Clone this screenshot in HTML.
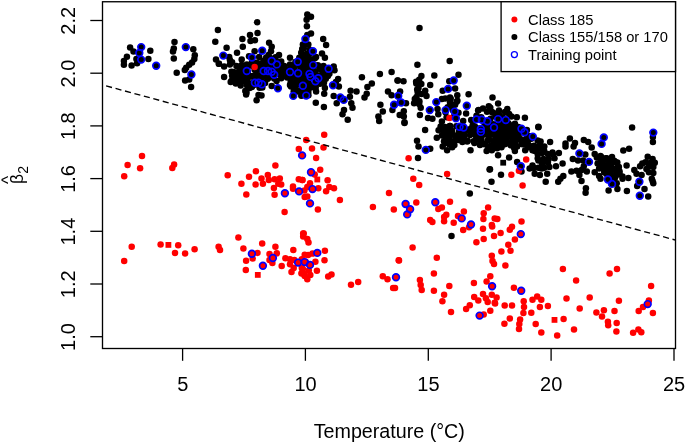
<!DOCTYPE html>
<html><head><meta charset="utf-8"><title>plot</title>
<style>
html,body{margin:0;padding:0;background:#fff;}
svg{display:block;}
text{font-family:"Liberation Sans",sans-serif;fill:#000;}
</style></head><body>
<svg width="685" height="443" viewBox="0 0 685 443">
<rect width="685" height="443" fill="#fff"/>
<g fill="#000"><circle cx="130.1" cy="47.4" r="3.25"/><circle cx="133.5" cy="51.5" r="3.25"/><circle cx="126.9" cy="56.7" r="3.25"/><circle cx="123.9" cy="61.1" r="3.25"/><circle cx="123.9" cy="64.7" r="3.25"/><circle cx="131.6" cy="65.5" r="3.25"/><circle cx="137.1" cy="63.3" r="3.25"/><circle cx="136.4" cy="58.9" r="3.25"/><circle cx="139.3" cy="53.0" r="3.25"/><circle cx="141.2" cy="47.1" r="3.25"/><circle cx="141.2" cy="59.6" r="3.25"/><circle cx="148.4" cy="58.9" r="3.25"/><circle cx="150.3" cy="50.8" r="3.25"/><circle cx="156.2" cy="65.7" r="3.25"/><circle cx="174.5" cy="42.0" r="3.25"/><circle cx="173.8" cy="48.6" r="3.25"/><circle cx="173.0" cy="51.5" r="3.25"/><circle cx="173.8" cy="58.4" r="3.25"/><circle cx="185.8" cy="47.1" r="3.25"/><circle cx="193.3" cy="49.3" r="3.25"/><circle cx="194.8" cy="55.2" r="3.25"/><circle cx="194.3" cy="58.9" r="3.25"/><circle cx="192.1" cy="62.5" r="3.25"/><circle cx="189.2" cy="64.7" r="3.25"/><circle cx="186.2" cy="67.7" r="3.25"/><circle cx="184.8" cy="69.9" r="3.25"/><circle cx="176.7" cy="72.8" r="3.25"/><circle cx="191.4" cy="74.5" r="3.25"/><circle cx="189.2" cy="79.4" r="3.25"/><circle cx="185.1" cy="80.4" r="3.25"/><circle cx="191.1" cy="86.9" r="3.25"/><circle cx="217.9" cy="29.9" r="3.25"/><circle cx="215.3" cy="41.7" r="3.25"/><circle cx="226.6" cy="47.8" r="3.25"/><circle cx="223.3" cy="55.6" r="3.25"/><circle cx="216.0" cy="59.5" r="3.25"/><circle cx="218.9" cy="63.7" r="3.25"/><circle cx="229.2" cy="57.1" r="3.25"/><circle cx="232.1" cy="62.2" r="3.25"/><circle cx="229.9" cy="60.0" r="3.25"/><circle cx="237.0" cy="52.7" r="3.25"/><circle cx="241.7" cy="59.5" r="3.25"/><circle cx="242.8" cy="46.8" r="3.25"/><circle cx="242.4" cy="39.0" r="3.25"/><circle cx="250.0" cy="35.1" r="3.25"/><circle cx="250.5" cy="40.9" r="3.25"/><circle cx="254.9" cy="40.2" r="3.25"/><circle cx="257.1" cy="22.3" r="3.25"/><circle cx="257.5" cy="32.9" r="3.25"/><circle cx="254.6" cy="51.2" r="3.25"/><circle cx="251.9" cy="57.5" r="3.25"/><circle cx="249.0" cy="56.3" r="3.25"/><circle cx="262.2" cy="50.7" r="3.25"/><circle cx="269.1" cy="42.8" r="3.25"/><circle cx="271.7" cy="46.8" r="3.25"/><circle cx="271.0" cy="51.2" r="3.25"/><circle cx="279.0" cy="54.9" r="3.25"/><circle cx="273.9" cy="59.3" r="3.25"/><circle cx="271.7" cy="61.0" r="3.25"/><circle cx="276.8" cy="64.4" r="3.25"/><circle cx="290.0" cy="57.8" r="3.25"/><circle cx="297.7" cy="61.7" r="3.25"/><circle cx="263.7" cy="60.7" r="3.25"/><circle cx="260.7" cy="63.7" r="3.25"/><circle cx="281.2" cy="61.5" r="3.25"/><circle cx="218.9" cy="63.7" r="3.25"/><circle cx="224.1" cy="66.6" r="3.25"/><circle cx="229.9" cy="64.4" r="3.25"/><circle cx="236.5" cy="65.9" r="3.25"/><circle cx="241.7" cy="65.1" r="3.25"/><circle cx="246.8" cy="64.4" r="3.25"/><circle cx="260.7" cy="63.7" r="3.25"/><circle cx="266.6" cy="64.4" r="3.25"/><circle cx="284.2" cy="65.9" r="3.25"/><circle cx="290.0" cy="64.4" r="3.25"/><circle cx="231.4" cy="71.7" r="3.25"/><circle cx="236.5" cy="72.5" r="3.25"/><circle cx="241.7" cy="71.7" r="3.25"/><circle cx="246.8" cy="71.0" r="3.25"/><circle cx="263.7" cy="71.0" r="3.25"/><circle cx="268.0" cy="71.0" r="3.25"/><circle cx="271.7" cy="71.7" r="3.25"/><circle cx="274.2" cy="74.7" r="3.25"/><circle cx="281.2" cy="73.2" r="3.25"/><circle cx="284.9" cy="68.8" r="3.25"/><circle cx="290.0" cy="72.0" r="3.25"/><circle cx="298.1" cy="73.2" r="3.25"/><circle cx="294.4" cy="68.8" r="3.25"/><circle cx="224.1" cy="76.9" r="3.25"/><circle cx="234.3" cy="77.6" r="3.25"/><circle cx="240.2" cy="76.9" r="3.25"/><circle cx="245.3" cy="76.9" r="3.25"/><circle cx="250.5" cy="76.1" r="3.25"/><circle cx="256.3" cy="75.4" r="3.25"/><circle cx="262.2" cy="76.9" r="3.25"/><circle cx="268.0" cy="78.3" r="3.25"/><circle cx="281.2" cy="78.3" r="3.25"/><circle cx="287.1" cy="77.6" r="3.25"/><circle cx="293.0" cy="77.6" r="3.25"/><circle cx="298.8" cy="79.1" r="3.25"/><circle cx="230.7" cy="82.0" r="3.25"/><circle cx="235.8" cy="83.5" r="3.25"/><circle cx="240.9" cy="82.0" r="3.25"/><circle cx="246.1" cy="82.0" r="3.25"/><circle cx="254.9" cy="82.7" r="3.25"/><circle cx="258.5" cy="82.7" r="3.25"/><circle cx="261.9" cy="84.2" r="3.25"/><circle cx="251.9" cy="87.1" r="3.25"/><circle cx="247.5" cy="86.4" r="3.25"/><circle cx="271.7" cy="86.1" r="3.25"/><circle cx="277.9" cy="88.3" r="3.25"/><circle cx="290.0" cy="84.9" r="3.25"/><circle cx="295.2" cy="83.5" r="3.25"/><circle cx="294.4" cy="89.3" r="3.25"/><circle cx="298.8" cy="90.8" r="3.25"/><circle cx="245.3" cy="91.1" r="3.25"/><circle cx="246.1" cy="94.5" r="3.25"/><circle cx="258.5" cy="94.9" r="3.25"/><circle cx="261.5" cy="95.5" r="3.25"/><circle cx="256.6" cy="100.3" r="3.25"/><circle cx="293.3" cy="95.9" r="3.25"/><circle cx="307.3" cy="14.5" r="3.25"/><circle cx="311.0" cy="16.7" r="3.25"/><circle cx="306.6" cy="19.7" r="3.25"/><circle cx="306.9" cy="26.3" r="3.25"/><circle cx="311.0" cy="33.6" r="3.25"/><circle cx="307.3" cy="35.1" r="3.25"/><circle cx="305.4" cy="39.0" r="3.25"/><circle cx="323.2" cy="39.0" r="3.25"/><circle cx="326.1" cy="44.9" r="3.25"/><circle cx="302.9" cy="44.6" r="3.25"/><circle cx="302.2" cy="49.0" r="3.25"/><circle cx="312.9" cy="51.2" r="3.25"/><circle cx="305.9" cy="54.9" r="3.25"/><circle cx="322.0" cy="53.4" r="3.25"/><circle cx="324.9" cy="57.8" r="3.25"/><circle cx="316.1" cy="57.1" r="3.25"/><circle cx="302.9" cy="60.0" r="3.25"/><circle cx="308.8" cy="60.7" r="3.25"/><circle cx="313.2" cy="65.1" r="3.25"/><circle cx="306.6" cy="65.9" r="3.25"/><circle cx="323.5" cy="65.9" r="3.25"/><circle cx="333.7" cy="66.6" r="3.25"/><circle cx="328.6" cy="68.8" r="3.25"/><circle cx="319.1" cy="66.6" r="3.25"/><circle cx="302.9" cy="68.8" r="3.25"/><circle cx="308.8" cy="70.3" r="3.25"/><circle cx="320.5" cy="68.8" r="3.25"/><circle cx="334.5" cy="70.3" r="3.25"/><circle cx="302.2" cy="74.7" r="3.25"/><circle cx="307.3" cy="75.4" r="3.25"/><circle cx="309.5" cy="73.9" r="3.25"/><circle cx="310.6" cy="76.9" r="3.25"/><circle cx="315.4" cy="79.1" r="3.25"/><circle cx="318.3" cy="78.3" r="3.25"/><circle cx="323.5" cy="74.7" r="3.25"/><circle cx="327.9" cy="76.1" r="3.25"/><circle cx="338.1" cy="79.1" r="3.25"/><circle cx="335.9" cy="82.0" r="3.25"/><circle cx="302.9" cy="80.5" r="3.25"/><circle cx="308.1" cy="82.0" r="3.25"/><circle cx="315.4" cy="81.3" r="3.25"/><circle cx="322.0" cy="82.0" r="3.25"/><circle cx="302.9" cy="85.7" r="3.25"/><circle cx="309.5" cy="87.1" r="3.25"/><circle cx="316.1" cy="91.5" r="3.25"/><circle cx="324.9" cy="87.9" r="3.25"/><circle cx="324.2" cy="93.7" r="3.25"/><circle cx="333.0" cy="85.2" r="3.25"/><circle cx="338.9" cy="86.4" r="3.25"/><circle cx="333.7" cy="95.9" r="3.25"/><circle cx="306.2" cy="95.6" r="3.25"/><circle cx="301.5" cy="95.2" r="3.25"/><circle cx="350.6" cy="90.8" r="3.25"/><circle cx="356.5" cy="91.5" r="3.25"/><circle cx="349.9" cy="96.7" r="3.25"/><circle cx="340.3" cy="97.4" r="3.25"/><circle cx="343.7" cy="99.9" r="3.25"/><circle cx="336.7" cy="103.3" r="3.25"/><circle cx="351.3" cy="103.3" r="3.25"/><circle cx="352.5" cy="107.7" r="3.25"/><circle cx="344.0" cy="109.9" r="3.25"/><circle cx="342.5" cy="114.3" r="3.25"/><circle cx="347.7" cy="119.8" r="3.25"/><circle cx="315.8" cy="102.8" r="3.25"/><circle cx="323.9" cy="106.9" r="3.25"/><circle cx="361.9" cy="77.3" r="3.25"/><circle cx="367.4" cy="87.1" r="3.25"/><circle cx="371.8" cy="83.5" r="3.25"/><circle cx="366.7" cy="93.7" r="3.25"/><circle cx="364.5" cy="97.4" r="3.25"/><circle cx="379.9" cy="73.9" r="3.25"/><circle cx="391.6" cy="72.0" r="3.25"/><circle cx="397.5" cy="80.5" r="3.25"/><circle cx="388.0" cy="91.5" r="3.25"/><circle cx="391.6" cy="95.2" r="3.25"/><circle cx="380.4" cy="104.7" r="3.25"/><circle cx="382.8" cy="111.6" r="3.25"/><circle cx="378.4" cy="116.5" r="3.25"/><circle cx="379.2" cy="120.9" r="3.25"/><circle cx="392.4" cy="109.9" r="3.25"/><circle cx="394.1" cy="104.7" r="3.25"/><circle cx="398.2" cy="95.9" r="3.25"/><circle cx="399.7" cy="102.5" r="3.25"/><circle cx="399.7" cy="115.0" r="3.25"/><circle cx="419.5" cy="28.0" r="3.25"/><circle cx="417.4" cy="64.7" r="3.25"/><circle cx="449.7" cy="61.0" r="3.25"/><circle cx="397.9" cy="80.5" r="3.25"/><circle cx="403.5" cy="81.3" r="3.25"/><circle cx="400.1" cy="91.5" r="3.25"/><circle cx="401.2" cy="102.5" r="3.25"/><circle cx="406.0" cy="103.3" r="3.25"/><circle cx="403.8" cy="111.3" r="3.25"/><circle cx="403.8" cy="116.5" r="3.25"/><circle cx="404.5" cy="122.3" r="3.25"/><circle cx="421.4" cy="76.1" r="3.25"/><circle cx="419.2" cy="79.8" r="3.25"/><circle cx="416.3" cy="83.5" r="3.25"/><circle cx="418.5" cy="87.9" r="3.25"/><circle cx="417.7" cy="92.3" r="3.25"/><circle cx="414.8" cy="98.9" r="3.25"/><circle cx="414.1" cy="103.3" r="3.25"/><circle cx="419.2" cy="104.0" r="3.25"/><circle cx="420.7" cy="107.7" r="3.25"/><circle cx="419.9" cy="115.0" r="3.25"/><circle cx="426.5" cy="95.9" r="3.25"/><circle cx="430.2" cy="84.9" r="3.25"/><circle cx="434.3" cy="75.4" r="3.25"/><circle cx="436.3" cy="102.1" r="3.25"/><circle cx="429.8" cy="110.1" r="3.25"/><circle cx="428.0" cy="117.9" r="3.25"/><circle cx="432.4" cy="118.7" r="3.25"/><circle cx="437.5" cy="109.1" r="3.25"/><circle cx="438.3" cy="114.3" r="3.25"/><circle cx="441.9" cy="98.9" r="3.25"/><circle cx="441.9" cy="121.6" r="3.25"/><circle cx="442.7" cy="90.8" r="3.25"/><circle cx="448.1" cy="88.9" r="3.25"/><circle cx="453.7" cy="80.5" r="3.25"/><circle cx="449.3" cy="81.3" r="3.25"/><circle cx="458.5" cy="74.7" r="3.25"/><circle cx="455.1" cy="88.6" r="3.25"/><circle cx="457.3" cy="95.2" r="3.25"/><circle cx="450.0" cy="97.4" r="3.25"/><circle cx="450.0" cy="102.5" r="3.25"/><circle cx="456.6" cy="101.8" r="3.25"/><circle cx="445.6" cy="110.1" r="3.25"/><circle cx="451.5" cy="106.9" r="3.25"/><circle cx="454.7" cy="111.6" r="3.25"/><circle cx="455.9" cy="118.2" r="3.25"/><circle cx="463.2" cy="120.9" r="3.25"/><circle cx="468.6" cy="94.2" r="3.25"/><circle cx="466.8" cy="105.7" r="3.25"/><circle cx="466.1" cy="113.5" r="3.25"/><circle cx="492.5" cy="97.4" r="3.25"/><circle cx="478.6" cy="109.9" r="3.25"/><circle cx="483.0" cy="108.4" r="3.25"/><circle cx="490.3" cy="107.7" r="3.25"/><circle cx="476.4" cy="119.4" r="3.25"/><circle cx="481.8" cy="119.8" r="3.25"/><circle cx="487.4" cy="121.3" r="3.25"/><circle cx="471.2" cy="120.1" r="3.25"/><circle cx="493.2" cy="112.8" r="3.25"/><circle cx="404.5" cy="123.1" r="3.25"/><circle cx="425.1" cy="130.1" r="3.25"/><circle cx="441.9" cy="127.5" r="3.25"/><circle cx="450.0" cy="126.0" r="3.25"/><circle cx="446.3" cy="131.1" r="3.25"/><circle cx="436.8" cy="137.7" r="3.25"/><circle cx="441.9" cy="135.5" r="3.25"/><circle cx="445.6" cy="137.7" r="3.25"/><circle cx="444.9" cy="142.1" r="3.25"/><circle cx="442.7" cy="146.5" r="3.25"/><circle cx="447.1" cy="150.2" r="3.25"/><circle cx="452.2" cy="147.3" r="3.25"/><circle cx="454.4" cy="145.1" r="3.25"/><circle cx="455.9" cy="139.9" r="3.25"/><circle cx="459.5" cy="126.7" r="3.25"/><circle cx="463.6" cy="127.5" r="3.25"/><circle cx="468.3" cy="129.7" r="3.25"/><circle cx="463.9" cy="134.1" r="3.25"/><circle cx="462.4" cy="142.1" r="3.25"/><circle cx="467.6" cy="140.7" r="3.25"/><circle cx="470.5" cy="150.2" r="3.25"/><circle cx="472.7" cy="125.3" r="3.25"/><circle cx="474.2" cy="134.1" r="3.25"/><circle cx="477.1" cy="129.7" r="3.25"/><circle cx="480.8" cy="128.9" r="3.25"/><circle cx="480.8" cy="131.9" r="3.25"/><circle cx="478.6" cy="138.5" r="3.25"/><circle cx="480.0" cy="144.3" r="3.25"/><circle cx="484.4" cy="126.0" r="3.25"/><circle cx="485.9" cy="134.1" r="3.25"/><circle cx="488.8" cy="138.5" r="3.25"/><circle cx="484.4" cy="144.3" r="3.25"/><circle cx="486.6" cy="150.9" r="3.25"/><circle cx="491.8" cy="150.2" r="3.25"/><circle cx="491.8" cy="131.1" r="3.25"/><circle cx="494.0" cy="127.5" r="3.25"/><circle cx="493.2" cy="141.4" r="3.25"/><circle cx="489.6" cy="169.5" r="3.25"/><circle cx="417.0" cy="140.7" r="3.25"/><circle cx="418.5" cy="146.5" r="3.25"/><circle cx="425.8" cy="149.9" r="3.25"/><circle cx="430.2" cy="148.7" r="3.25"/><circle cx="418.0" cy="158.0" r="3.25"/><circle cx="498.1" cy="103.4" r="3.25"/><circle cx="507.3" cy="108.9" r="3.25"/><circle cx="509.1" cy="114.0" r="3.25"/><circle cx="498.8" cy="114.0" r="3.25"/><circle cx="516.8" cy="117.2" r="3.25"/><circle cx="524.9" cy="117.7" r="3.25"/><circle cx="538.4" cy="127.2" r="3.25"/><circle cx="513.5" cy="125.0" r="3.25"/><circle cx="504.7" cy="128.7" r="3.25"/><circle cx="498.8" cy="131.6" r="3.25"/><circle cx="510.5" cy="131.6" r="3.25"/><circle cx="498.1" cy="119.1" r="3.25"/><circle cx="505.8" cy="120.1" r="3.25"/><circle cx="521.5" cy="128.7" r="3.25"/><circle cx="524.5" cy="132.3" r="3.25"/><circle cx="498.8" cy="125.3" r="3.25"/><circle cx="504.7" cy="126.7" r="3.25"/><circle cx="510.5" cy="126.0" r="3.25"/><circle cx="514.9" cy="123.8" r="3.25"/><circle cx="538.4" cy="126.7" r="3.25"/><circle cx="497.3" cy="131.1" r="3.25"/><circle cx="503.2" cy="132.6" r="3.25"/><circle cx="509.1" cy="131.9" r="3.25"/><circle cx="514.9" cy="132.6" r="3.25"/><circle cx="495.9" cy="137.0" r="3.25"/><circle cx="501.7" cy="138.5" r="3.25"/><circle cx="507.6" cy="137.0" r="3.25"/><circle cx="513.5" cy="139.2" r="3.25"/><circle cx="519.3" cy="138.5" r="3.25"/><circle cx="525.2" cy="139.9" r="3.25"/><circle cx="540.6" cy="141.4" r="3.25"/><circle cx="550.1" cy="142.1" r="3.25"/><circle cx="569.9" cy="138.5" r="3.25"/><circle cx="575.0" cy="142.9" r="3.25"/><circle cx="583.8" cy="139.9" r="3.25"/><circle cx="588.2" cy="142.1" r="3.25"/><circle cx="565.5" cy="143.6" r="3.25"/><circle cx="492.9" cy="146.5" r="3.25"/><circle cx="498.8" cy="145.8" r="3.25"/><circle cx="504.7" cy="144.3" r="3.25"/><circle cx="510.5" cy="145.1" r="3.25"/><circle cx="517.1" cy="146.5" r="3.25"/><circle cx="523.0" cy="144.3" r="3.25"/><circle cx="528.1" cy="147.3" r="3.25"/><circle cx="534.0" cy="145.8" r="3.25"/><circle cx="539.1" cy="148.0" r="3.25"/><circle cx="544.3" cy="146.5" r="3.25"/><circle cx="514.9" cy="150.9" r="3.25"/><circle cx="525.2" cy="150.2" r="3.25"/><circle cx="532.5" cy="150.2" r="3.25"/><circle cx="565.5" cy="146.5" r="3.25"/><circle cx="573.6" cy="146.5" r="3.25"/><circle cx="579.4" cy="153.4" r="3.25"/><circle cx="585.3" cy="154.6" r="3.25"/><circle cx="558.9" cy="153.1" r="3.25"/><circle cx="553.0" cy="154.6" r="3.25"/><circle cx="547.9" cy="153.9" r="3.25"/><circle cx="542.1" cy="153.1" r="3.25"/><circle cx="537.7" cy="153.9" r="3.25"/><circle cx="498.1" cy="155.3" r="3.25"/><circle cx="509.1" cy="157.5" r="3.25"/><circle cx="517.1" cy="161.9" r="3.25"/><circle cx="537.7" cy="158.3" r="3.25"/><circle cx="543.5" cy="159.0" r="3.25"/><circle cx="548.7" cy="159.0" r="3.25"/><circle cx="554.5" cy="158.3" r="3.25"/><circle cx="542.1" cy="163.4" r="3.25"/><circle cx="547.9" cy="162.7" r="3.25"/><circle cx="562.6" cy="163.4" r="3.25"/><circle cx="556.0" cy="166.3" r="3.25"/><circle cx="572.8" cy="159.0" r="3.25"/><circle cx="578.0" cy="160.5" r="3.25"/><circle cx="583.1" cy="160.5" r="3.25"/><circle cx="589.0" cy="161.9" r="3.25"/><circle cx="532.5" cy="165.6" r="3.25"/><circle cx="529.6" cy="168.5" r="3.25"/><circle cx="538.4" cy="167.8" r="3.25"/><circle cx="544.3" cy="167.8" r="3.25"/><circle cx="549.4" cy="167.1" r="3.25"/><circle cx="521.5" cy="171.5" r="3.25"/><circle cx="501.0" cy="174.8" r="3.25"/><circle cx="490.0" cy="169.3" r="3.25"/><circle cx="534.7" cy="173.7" r="3.25"/><circle cx="539.9" cy="175.1" r="3.25"/><circle cx="547.2" cy="173.7" r="3.25"/><circle cx="563.3" cy="175.9" r="3.25"/><circle cx="571.4" cy="171.5" r="3.25"/><circle cx="576.5" cy="170.7" r="3.25"/><circle cx="581.6" cy="170.0" r="3.25"/><circle cx="579.4" cy="175.1" r="3.25"/><circle cx="586.8" cy="171.5" r="3.25"/><circle cx="583.8" cy="166.3" r="3.25"/><circle cx="532.8" cy="136.6" r="3.25"/><circle cx="520.8" cy="166.3" r="3.25"/><circle cx="632.1" cy="127.5" r="3.25"/><circle cx="603.8" cy="137.4" r="3.25"/><circle cx="601.6" cy="143.9" r="3.25"/><circle cx="591.7" cy="147.6" r="3.25"/><circle cx="594.7" cy="153.9" r="3.25"/><circle cx="600.5" cy="156.1" r="3.25"/><circle cx="606.4" cy="158.3" r="3.25"/><circle cx="611.5" cy="159.0" r="3.25"/><circle cx="615.2" cy="161.9" r="3.25"/><circle cx="623.3" cy="150.6" r="3.25"/><circle cx="629.1" cy="148.7" r="3.25"/><circle cx="626.6" cy="165.6" r="3.25"/><circle cx="653.3" cy="132.6" r="3.25"/><circle cx="652.9" cy="137.0" r="3.25"/><circle cx="652.9" cy="142.1" r="3.25"/><circle cx="647.7" cy="156.8" r="3.25"/><circle cx="652.6" cy="159.0" r="3.25"/><circle cx="654.8" cy="162.7" r="3.25"/><circle cx="642.3" cy="163.4" r="3.25"/><circle cx="640.1" cy="166.3" r="3.25"/><circle cx="648.9" cy="166.3" r="3.25"/><circle cx="653.3" cy="167.1" r="3.25"/><circle cx="634.3" cy="170.0" r="3.25"/><circle cx="636.5" cy="173.7" r="3.25"/><circle cx="641.6" cy="175.1" r="3.25"/><circle cx="648.9" cy="172.2" r="3.25"/><circle cx="653.3" cy="172.9" r="3.25"/><circle cx="651.8" cy="178.8" r="3.25"/><circle cx="618.9" cy="167.1" r="3.25"/><circle cx="613.7" cy="169.3" r="3.25"/><circle cx="608.6" cy="167.1" r="3.25"/><circle cx="603.5" cy="164.9" r="3.25"/><circle cx="597.6" cy="163.4" r="3.25"/><circle cx="599.1" cy="168.5" r="3.25"/><circle cx="604.2" cy="172.2" r="3.25"/><circle cx="610.8" cy="173.7" r="3.25"/><circle cx="616.7" cy="173.7" r="3.25"/><circle cx="619.6" cy="171.5" r="3.25"/><circle cx="594.7" cy="172.2" r="3.25"/><circle cx="599.1" cy="175.9" r="3.25"/><circle cx="613.7" cy="178.0" r="3.25"/><circle cx="622.5" cy="176.6" r="3.25"/><circle cx="607.9" cy="179.5" r="3.25"/><circle cx="612.0" cy="183.9" r="3.25"/><circle cx="639.4" cy="181.7" r="3.25"/><circle cx="639.8" cy="195.7" r="3.25"/><circle cx="648.2" cy="196.4" r="3.25"/><circle cx="653.3" cy="183.2" r="3.25"/><circle cx="652.6" cy="181.0" r="3.25"/><circle cx="644.5" cy="189.1" r="3.25"/><circle cx="637.2" cy="186.1" r="3.25"/><circle cx="626.9" cy="191.0" r="3.25"/><circle cx="617.4" cy="189.1" r="3.25"/><circle cx="608.6" cy="190.5" r="3.25"/><circle cx="622.5" cy="178.8" r="3.25"/><circle cx="628.4" cy="178.1" r="3.25"/><circle cx="616.7" cy="183.2" r="3.25"/><circle cx="600.5" cy="178.8" r="3.25"/><circle cx="585.9" cy="188.3" r="3.25"/><circle cx="585.6" cy="192.7" r="3.25"/><circle cx="581.5" cy="181.0" r="3.25"/><circle cx="491.5" cy="181.7" r="3.25"/><circle cx="545.7" cy="181.7" r="3.25"/><circle cx="558.2" cy="181.7" r="3.25"/><circle cx="560.4" cy="178.8" r="3.25"/><circle cx="469.8" cy="193.5" r="3.25"/><circle cx="451.5" cy="236.0" r="3.25"/><circle cx="645.5" cy="162.3" r="3.25"/><circle cx="650.5" cy="162.8" r="3.25"/><circle cx="646.4" cy="169.1" r="3.25"/><circle cx="268.6" cy="54.9" r="3.25"/><circle cx="259.2" cy="56.9" r="3.25"/><circle cx="266.2" cy="57.6" r="3.25"/><circle cx="270.1" cy="58.1" r="3.25"/><circle cx="275.5" cy="57.2" r="3.25"/><circle cx="252.0" cy="62.1" r="3.25"/><circle cx="256.7" cy="62.7" r="3.25"/><circle cx="264.0" cy="62.4" r="3.25"/><circle cx="269.4" cy="61.6" r="3.25"/><circle cx="273.8" cy="62.5" r="3.25"/><circle cx="278.4" cy="62.0" r="3.25"/><circle cx="239.2" cy="67.2" r="3.25"/><circle cx="246.1" cy="68.1" r="3.25"/><circle cx="251.7" cy="65.8" r="3.25"/><circle cx="255.3" cy="67.1" r="3.25"/><circle cx="259.1" cy="66.4" r="3.25"/><circle cx="264.6" cy="65.3" r="3.25"/><circle cx="269.2" cy="67.4" r="3.25"/><circle cx="274.5" cy="65.7" r="3.25"/><circle cx="280.3" cy="67.7" r="3.25"/><circle cx="233.3" cy="72.1" r="3.25"/><circle cx="239.2" cy="72.0" r="3.25"/><circle cx="242.4" cy="70.6" r="3.25"/><circle cx="247.7" cy="72.1" r="3.25"/><circle cx="254.6" cy="69.7" r="3.25"/><circle cx="257.1" cy="70.0" r="3.25"/><circle cx="262.3" cy="70.8" r="3.25"/><circle cx="268.4" cy="70.1" r="3.25"/><circle cx="271.6" cy="70.6" r="3.25"/><circle cx="277.7" cy="71.1" r="3.25"/><circle cx="232.1" cy="75.8" r="3.25"/><circle cx="235.7" cy="75.6" r="3.25"/><circle cx="241.2" cy="73.8" r="3.25"/><circle cx="246.9" cy="76.1" r="3.25"/><circle cx="251.9" cy="76.2" r="3.25"/><circle cx="255.3" cy="74.9" r="3.25"/><circle cx="259.4" cy="75.6" r="3.25"/><circle cx="264.3" cy="73.8" r="3.25"/><circle cx="269.7" cy="74.1" r="3.25"/><circle cx="275.1" cy="73.8" r="3.25"/><circle cx="279.1" cy="74.1" r="3.25"/><circle cx="231.6" cy="80.8" r="3.25"/><circle cx="238.5" cy="78.4" r="3.25"/><circle cx="242.4" cy="79.1" r="3.25"/><circle cx="247.7" cy="78.4" r="3.25"/><circle cx="254.3" cy="81.1" r="3.25"/><circle cx="258.0" cy="79.5" r="3.25"/><circle cx="261.8" cy="78.3" r="3.25"/><circle cx="267.6" cy="78.8" r="3.25"/><circle cx="274.2" cy="78.5" r="3.25"/><circle cx="276.6" cy="81.0" r="3.25"/><circle cx="235.8" cy="82.4" r="3.25"/><circle cx="240.7" cy="85.4" r="3.25"/><circle cx="246.8" cy="84.5" r="3.25"/><circle cx="249.9" cy="83.5" r="3.25"/><circle cx="254.6" cy="84.8" r="3.25"/><circle cx="260.8" cy="84.8" r="3.25"/><circle cx="265.1" cy="83.0" r="3.25"/><circle cx="249.6" cy="88.1" r="3.25"/><circle cx="259.6" cy="87.8" r="3.25"/><circle cx="262.3" cy="87.4" r="3.25"/><circle cx="246.5" cy="92.5" r="3.25"/><circle cx="308.3" cy="44.6" r="3.25"/><circle cx="303.8" cy="48.3" r="3.25"/><circle cx="309.6" cy="49.7" r="3.25"/><circle cx="301.2" cy="52.8" r="3.25"/><circle cx="307.0" cy="53.7" r="3.25"/><circle cx="310.5" cy="53.0" r="3.25"/><circle cx="299.3" cy="57.7" r="3.25"/><circle cx="304.2" cy="57.2" r="3.25"/><circle cx="309.2" cy="58.5" r="3.25"/><circle cx="314.9" cy="58.3" r="3.25"/><circle cx="295.4" cy="62.0" r="3.25"/><circle cx="302.7" cy="62.7" r="3.25"/><circle cx="305.7" cy="62.2" r="3.25"/><circle cx="312.3" cy="60.3" r="3.25"/><circle cx="290.9" cy="66.9" r="3.25"/><circle cx="293.2" cy="65.6" r="3.25"/><circle cx="299.4" cy="65.3" r="3.25"/><circle cx="303.3" cy="65.2" r="3.25"/><circle cx="310.0" cy="64.3" r="3.25"/><circle cx="314.5" cy="65.6" r="3.25"/><circle cx="317.8" cy="65.3" r="3.25"/><circle cx="287.7" cy="71.7" r="3.25"/><circle cx="290.5" cy="69.4" r="3.25"/><circle cx="295.3" cy="71.1" r="3.25"/><circle cx="301.1" cy="69.0" r="3.25"/><circle cx="306.6" cy="71.5" r="3.25"/><circle cx="312.8" cy="69.4" r="3.25"/><circle cx="315.7" cy="71.5" r="3.25"/><circle cx="322.0" cy="70.8" r="3.25"/><circle cx="325.5" cy="68.8" r="3.25"/><circle cx="289.9" cy="74.3" r="3.25"/><circle cx="292.9" cy="75.9" r="3.25"/><circle cx="299.7" cy="75.5" r="3.25"/><circle cx="303.0" cy="75.7" r="3.25"/><circle cx="307.9" cy="75.7" r="3.25"/><circle cx="314.2" cy="74.0" r="3.25"/><circle cx="319.5" cy="75.9" r="3.25"/><circle cx="323.6" cy="73.3" r="3.25"/><circle cx="329.4" cy="73.7" r="3.25"/><circle cx="290.4" cy="77.9" r="3.25"/><circle cx="296.2" cy="78.3" r="3.25"/><circle cx="302.6" cy="78.2" r="3.25"/><circle cx="306.8" cy="77.8" r="3.25"/><circle cx="311.3" cy="77.3" r="3.25"/><circle cx="316.0" cy="77.3" r="3.25"/><circle cx="322.5" cy="79.0" r="3.25"/><circle cx="325.8" cy="78.8" r="3.25"/><circle cx="290.7" cy="82.0" r="3.25"/><circle cx="295.3" cy="83.0" r="3.25"/><circle cx="299.3" cy="84.3" r="3.25"/><circle cx="304.0" cy="83.2" r="3.25"/><circle cx="309.9" cy="84.8" r="3.25"/><circle cx="313.8" cy="84.3" r="3.25"/><circle cx="320.0" cy="83.7" r="3.25"/><circle cx="324.0" cy="82.7" r="3.25"/><circle cx="291.0" cy="86.5" r="3.25"/><circle cx="295.5" cy="88.7" r="3.25"/><circle cx="303.0" cy="88.1" r="3.25"/><circle cx="306.1" cy="86.8" r="3.25"/><circle cx="311.1" cy="87.4" r="3.25"/><circle cx="315.7" cy="87.4" r="3.25"/><circle cx="293.7" cy="91.5" r="3.25"/><circle cx="297.7" cy="91.5" r="3.25"/><circle cx="304.2" cy="91.9" r="3.25"/><circle cx="308.3" cy="91.9" r="3.25"/><circle cx="301.4" cy="95.7" r="3.25"/><circle cx="308.4" cy="95.2" r="3.25"/><circle cx="284.7" cy="68.7" r="3.25"/><circle cx="287.0" cy="73.0" r="3.25"/><circle cx="282.8" cy="75.7" r="3.25"/><circle cx="493.3" cy="124.3" r="3.25"/><circle cx="502.5" cy="123.4" r="3.25"/><circle cx="508.4" cy="123.2" r="3.25"/><circle cx="440.6" cy="126.5" r="3.25"/><circle cx="445.1" cy="127.0" r="3.25"/><circle cx="449.9" cy="125.9" r="3.25"/><circle cx="456.3" cy="126.2" r="3.25"/><circle cx="461.6" cy="128.5" r="3.25"/><circle cx="463.5" cy="127.0" r="3.25"/><circle cx="471.1" cy="128.6" r="3.25"/><circle cx="474.9" cy="126.4" r="3.25"/><circle cx="479.1" cy="128.6" r="3.25"/><circle cx="484.1" cy="127.4" r="3.25"/><circle cx="488.9" cy="127.2" r="3.25"/><circle cx="496.5" cy="126.0" r="3.25"/><circle cx="501.1" cy="127.2" r="3.25"/><circle cx="506.3" cy="127.8" r="3.25"/><circle cx="509.2" cy="128.4" r="3.25"/><circle cx="515.0" cy="125.6" r="3.25"/><circle cx="518.4" cy="127.1" r="3.25"/><circle cx="438.6" cy="130.3" r="3.25"/><circle cx="443.9" cy="132.2" r="3.25"/><circle cx="448.8" cy="130.8" r="3.25"/><circle cx="452.1" cy="131.1" r="3.25"/><circle cx="459.1" cy="131.8" r="3.25"/><circle cx="462.1" cy="131.3" r="3.25"/><circle cx="466.8" cy="130.0" r="3.25"/><circle cx="471.3" cy="132.6" r="3.25"/><circle cx="476.9" cy="132.9" r="3.25"/><circle cx="481.7" cy="130.7" r="3.25"/><circle cx="487.6" cy="130.5" r="3.25"/><circle cx="492.1" cy="132.9" r="3.25"/><circle cx="498.8" cy="132.5" r="3.25"/><circle cx="503.0" cy="132.8" r="3.25"/><circle cx="508.9" cy="131.6" r="3.25"/><circle cx="513.2" cy="130.0" r="3.25"/><circle cx="518.3" cy="131.3" r="3.25"/><circle cx="523.3" cy="131.9" r="3.25"/><circle cx="526.9" cy="130.0" r="3.25"/><circle cx="446.6" cy="135.1" r="3.25"/><circle cx="450.5" cy="135.2" r="3.25"/><circle cx="455.2" cy="135.5" r="3.25"/><circle cx="459.0" cy="134.8" r="3.25"/><circle cx="464.1" cy="137.1" r="3.25"/><circle cx="470.0" cy="134.9" r="3.25"/><circle cx="476.3" cy="137.4" r="3.25"/><circle cx="479.9" cy="134.7" r="3.25"/><circle cx="484.1" cy="134.5" r="3.25"/><circle cx="489.5" cy="134.5" r="3.25"/><circle cx="494.2" cy="135.1" r="3.25"/><circle cx="500.3" cy="137.1" r="3.25"/><circle cx="505.8" cy="135.6" r="3.25"/><circle cx="509.8" cy="135.9" r="3.25"/><circle cx="514.6" cy="135.3" r="3.25"/><circle cx="518.6" cy="135.1" r="3.25"/><circle cx="526.5" cy="134.6" r="3.25"/><circle cx="530.0" cy="136.3" r="3.25"/><circle cx="444.0" cy="141.3" r="3.25"/><circle cx="448.7" cy="138.7" r="3.25"/><circle cx="451.0" cy="140.9" r="3.25"/><circle cx="458.8" cy="140.1" r="3.25"/><circle cx="462.8" cy="138.6" r="3.25"/><circle cx="467.2" cy="141.6" r="3.25"/><circle cx="473.6" cy="141.3" r="3.25"/><circle cx="479.0" cy="139.4" r="3.25"/><circle cx="481.3" cy="139.1" r="3.25"/><circle cx="487.6" cy="140.8" r="3.25"/><circle cx="493.9" cy="140.9" r="3.25"/><circle cx="498.0" cy="141.0" r="3.25"/><circle cx="502.4" cy="140.4" r="3.25"/><circle cx="506.1" cy="141.1" r="3.25"/><circle cx="511.7" cy="141.5" r="3.25"/><circle cx="518.0" cy="139.6" r="3.25"/><circle cx="521.3" cy="139.4" r="3.25"/><circle cx="528.0" cy="140.8" r="3.25"/><circle cx="531.3" cy="138.8" r="3.25"/><circle cx="537.6" cy="140.5" r="3.25"/><circle cx="445.4" cy="143.0" r="3.25"/><circle cx="449.4" cy="144.4" r="3.25"/><circle cx="474.4" cy="143.0" r="3.25"/><circle cx="480.0" cy="145.1" r="3.25"/><circle cx="484.8" cy="143.8" r="3.25"/><circle cx="490.6" cy="145.9" r="3.25"/><circle cx="494.2" cy="143.0" r="3.25"/><circle cx="499.5" cy="144.3" r="3.25"/><circle cx="505.6" cy="143.6" r="3.25"/><circle cx="511.0" cy="145.3" r="3.25"/><circle cx="515.1" cy="143.6" r="3.25"/><circle cx="521.5" cy="143.9" r="3.25"/><circle cx="526.1" cy="143.7" r="3.25"/><circle cx="529.1" cy="145.4" r="3.25"/><circle cx="488.3" cy="147.4" r="3.25"/><circle cx="493.1" cy="148.5" r="3.25"/><circle cx="497.1" cy="148.3" r="3.25"/><circle cx="501.5" cy="147.3" r="3.25"/><circle cx="514.0" cy="147.7" r="3.25"/><circle cx="488.8" cy="106.2" r="3.25"/><circle cx="478.1" cy="110.6" r="3.25"/><circle cx="487.0" cy="111.7" r="3.25"/><circle cx="491.8" cy="112.0" r="3.25"/><circle cx="499.0" cy="110.6" r="3.25"/><circle cx="505.0" cy="112.1" r="3.25"/><circle cx="476.5" cy="115.8" r="3.25"/><circle cx="481.2" cy="117.3" r="3.25"/><circle cx="490.5" cy="118.8" r="3.25"/><circle cx="495.7" cy="116.6" r="3.25"/><circle cx="502.8" cy="117.3" r="3.25"/><circle cx="511.4" cy="116.4" r="3.25"/><circle cx="416.1" cy="81.8" r="3.25"/><circle cx="421.3" cy="83.9" r="3.25"/><circle cx="417.2" cy="89.4" r="3.25"/><circle cx="425.2" cy="90.8" r="3.25"/><circle cx="416.5" cy="96.9" r="3.25"/><circle cx="421.5" cy="94.0" r="3.25"/><circle cx="419.4" cy="101.2" r="3.25"/><circle cx="445.3" cy="98.6" r="3.25"/><circle cx="450.7" cy="98.7" r="3.25"/><circle cx="457.4" cy="100.8" r="3.25"/><circle cx="447.7" cy="107.2" r="3.25"/><circle cx="455.1" cy="104.8" r="3.25"/><circle cx="445.5" cy="112.2" r="3.25"/><circle cx="453.1" cy="110.5" r="3.25"/><circle cx="458.5" cy="112.8" r="3.25"/><circle cx="446.6" cy="117.2" r="3.25"/><circle cx="453.8" cy="116.8" r="3.25"/><circle cx="596.8" cy="157.5" r="3.25"/><circle cx="601.1" cy="157.0" r="3.25"/><circle cx="606.1" cy="158.3" r="3.25"/><circle cx="612.0" cy="157.0" r="3.25"/><circle cx="600.9" cy="162.1" r="3.25"/><circle cx="603.2" cy="160.7" r="3.25"/><circle cx="608.8" cy="162.1" r="3.25"/><circle cx="614.2" cy="160.7" r="3.25"/><circle cx="617.3" cy="162.6" r="3.25"/><circle cx="601.7" cy="167.4" r="3.25"/><circle cx="606.3" cy="166.2" r="3.25"/><circle cx="611.0" cy="165.7" r="3.25"/><circle cx="617.2" cy="167.6" r="3.25"/><circle cx="604.3" cy="171.0" r="3.25"/><circle cx="608.9" cy="171.2" r="3.25"/><circle cx="613.7" cy="168.9" r="3.25"/><circle cx="616.8" cy="170.1" r="3.25"/><circle cx="606.5" cy="174.0" r="3.25"/><circle cx="610.3" cy="173.3" r="3.25"/><circle cx="616.1" cy="175.3" r="3.25"/><circle cx="619.4" cy="173.9" r="3.25"/><circle cx="609.1" cy="176.5" r="3.25"/><circle cx="615.1" cy="177.6" r="3.25"/><circle cx="612.5" cy="181.0" r="3.25"/><circle cx="539.4" cy="145.8" r="3.25"/><circle cx="535.0" cy="150.9" r="3.25"/><circle cx="544.3" cy="151.2" r="3.25"/><circle cx="552.5" cy="152.6" r="3.25"/><circle cx="538.4" cy="160.5" r="3.25"/><circle cx="547.5" cy="160.7" r="3.25"/><circle cx="534.0" cy="167.9" r="3.25"/><circle cx="541.7" cy="168.4" r="3.25"/><rect x="500.3" y="159.8" width="5.8" height="5.8"/></g>
<g fill="#ff0000"><circle cx="142.0" cy="156.1" r="3.25"/><circle cx="127.6" cy="164.9" r="3.25"/><circle cx="140.1" cy="168.3" r="3.25"/><circle cx="124.2" cy="176.2" r="3.25"/><circle cx="174.1" cy="164.6" r="3.25"/><circle cx="172.3" cy="167.9" r="3.25"/><circle cx="131.7" cy="246.7" r="3.25"/><circle cx="124.2" cy="261.1" r="3.25"/><circle cx="160.6" cy="244.5" r="3.25"/><circle cx="178.2" cy="245.2" r="3.25"/><circle cx="175.0" cy="253.0" r="3.25"/><circle cx="185.1" cy="253.4" r="3.25"/><circle cx="194.6" cy="249.3" r="3.25"/><circle cx="254.6" cy="67.0" r="3.25"/><circle cx="449.5" cy="117.9" r="3.25"/><circle cx="408.6" cy="158.3" r="3.25"/><circle cx="447.1" cy="173.9" r="3.25"/><circle cx="413.3" cy="178.8" r="3.25"/><circle cx="526.2" cy="159.4" r="3.25"/><circle cx="518.9" cy="170.7" r="3.25"/><circle cx="511.3" cy="174.8" r="3.25"/><circle cx="522.6" cy="185.4" r="3.25"/><circle cx="497.3" cy="219.1" r="3.25"/><circle cx="521.5" cy="221.6" r="3.25"/><circle cx="227.7" cy="175.3" r="3.25"/><circle cx="241.4" cy="183.7" r="3.25"/><circle cx="249.0" cy="176.8" r="3.25"/><circle cx="255.9" cy="171.2" r="3.25"/><circle cx="255.6" cy="184.4" r="3.25"/><circle cx="261.5" cy="178.5" r="3.25"/><circle cx="267.8" cy="174.9" r="3.25"/><circle cx="262.9" cy="183.7" r="3.25"/><circle cx="268.8" cy="180.0" r="3.25"/><circle cx="275.4" cy="165.6" r="3.25"/><circle cx="274.6" cy="179.3" r="3.25"/><circle cx="279.8" cy="178.5" r="3.25"/><circle cx="278.3" cy="183.7" r="3.25"/><circle cx="281.2" cy="184.4" r="3.25"/><circle cx="273.9" cy="188.0" r="3.25"/><circle cx="293.0" cy="186.6" r="3.25"/><circle cx="298.8" cy="148.9" r="3.25"/><circle cx="302.1" cy="155.4" r="3.25"/><circle cx="298.8" cy="179.3" r="3.25"/><circle cx="302.5" cy="180.0" r="3.25"/><circle cx="246.3" cy="194.4" r="3.25"/><circle cx="274.6" cy="194.7" r="3.25"/><circle cx="284.9" cy="193.2" r="3.25"/><circle cx="299.1" cy="191.4" r="3.25"/><circle cx="293.0" cy="188.8" r="3.25"/><circle cx="304.7" cy="196.9" r="3.25"/><circle cx="284.6" cy="212.0" r="3.25"/><circle cx="238.4" cy="237.6" r="3.25"/><circle cx="303.2" cy="233.5" r="3.25"/><circle cx="218.6" cy="246.7" r="3.25"/><circle cx="220.0" cy="250.1" r="3.25"/><circle cx="243.4" cy="248.5" r="3.25"/><circle cx="262.2" cy="243.5" r="3.25"/><circle cx="275.4" cy="246.7" r="3.25"/><circle cx="293.3" cy="250.1" r="3.25"/><circle cx="251.9" cy="253.8" r="3.25"/><circle cx="257.5" cy="252.9" r="3.25"/><circle cx="252.7" cy="258.5" r="3.25"/><circle cx="246.1" cy="260.7" r="3.25"/><circle cx="245.8" cy="269.9" r="3.25"/><circle cx="262.9" cy="265.8" r="3.25"/><circle cx="269.5" cy="254.1" r="3.25"/><circle cx="276.8" cy="253.3" r="3.25"/><circle cx="272.9" cy="258.0" r="3.25"/><circle cx="269.5" cy="259.9" r="3.25"/><circle cx="272.4" cy="262.9" r="3.25"/><circle cx="281.7" cy="266.1" r="3.25"/><circle cx="285.4" cy="258.2" r="3.25"/><circle cx="290.0" cy="259.2" r="3.25"/><circle cx="294.4" cy="259.9" r="3.25"/><circle cx="290.0" cy="264.3" r="3.25"/><circle cx="293.7" cy="268.0" r="3.25"/><circle cx="291.5" cy="272.0" r="3.25"/><circle cx="298.1" cy="262.6" r="3.25"/><circle cx="301.8" cy="259.2" r="3.25"/><circle cx="304.7" cy="262.1" r="3.25"/><circle cx="301.8" cy="268.0" r="3.25"/><circle cx="301.8" cy="273.1" r="3.25"/><circle cx="304.7" cy="276.1" r="3.25"/><circle cx="303.2" cy="236.5" r="3.25"/><circle cx="304.7" cy="254.8" r="3.25"/><circle cx="324.2" cy="134.8" r="3.25"/><circle cx="306.2" cy="139.9" r="3.25"/><circle cx="312.0" cy="148.4" r="3.25"/><circle cx="323.5" cy="147.6" r="3.25"/><circle cx="316.1" cy="158.0" r="3.25"/><circle cx="320.2" cy="169.7" r="3.25"/><circle cx="311.0" cy="172.2" r="3.25"/><circle cx="314.7" cy="174.4" r="3.25"/><circle cx="302.2" cy="180.0" r="3.25"/><circle cx="327.6" cy="180.3" r="3.25"/><circle cx="310.0" cy="183.2" r="3.25"/><circle cx="307.3" cy="186.9" r="3.25"/><circle cx="312.5" cy="189.1" r="3.25"/><circle cx="318.3" cy="188.3" r="3.25"/><circle cx="304.4" cy="190.5" r="3.25"/><circle cx="329.3" cy="186.9" r="3.25"/><circle cx="334.0" cy="188.3" r="3.25"/><circle cx="326.1" cy="191.3" r="3.25"/><circle cx="307.3" cy="196.4" r="3.25"/><circle cx="310.0" cy="203.4" r="3.25"/><circle cx="317.9" cy="209.6" r="3.25"/><circle cx="339.9" cy="200.1" r="3.25"/><circle cx="389.0" cy="193.0" r="3.25"/><circle cx="372.9" cy="207.0" r="3.25"/><circle cx="393.8" cy="209.6" r="3.25"/><circle cx="303.7" cy="233.5" r="3.25"/><circle cx="307.3" cy="238.9" r="3.25"/><circle cx="308.5" cy="242.6" r="3.25"/><circle cx="324.9" cy="250.7" r="3.25"/><circle cx="317.3" cy="252.9" r="3.25"/><circle cx="308.1" cy="255.1" r="3.25"/><circle cx="312.5" cy="253.6" r="3.25"/><circle cx="324.5" cy="260.2" r="3.25"/><circle cx="315.4" cy="261.7" r="3.25"/><circle cx="310.0" cy="264.9" r="3.25"/><circle cx="305.6" cy="261.7" r="3.25"/><circle cx="302.9" cy="269.0" r="3.25"/><circle cx="308.8" cy="270.5" r="3.25"/><circle cx="316.9" cy="270.7" r="3.25"/><circle cx="304.4" cy="274.1" r="3.25"/><circle cx="310.3" cy="274.9" r="3.25"/><circle cx="307.3" cy="279.3" r="3.25"/><circle cx="301.5" cy="273.4" r="3.25"/><circle cx="331.5" cy="274.6" r="3.25"/><circle cx="328.2" cy="276.6" r="3.25"/><circle cx="351.0" cy="284.8" r="3.25"/><circle cx="358.2" cy="281.9" r="3.25"/><circle cx="382.8" cy="276.3" r="3.25"/><circle cx="387.5" cy="279.3" r="3.25"/><circle cx="396.0" cy="277.3" r="3.25"/><circle cx="399.0" cy="260.6" r="3.25"/><circle cx="393.1" cy="288.0" r="3.25"/><circle cx="419.2" cy="185.1" r="3.25"/><circle cx="416.3" cy="202.6" r="3.25"/><circle cx="405.6" cy="204.0" r="3.25"/><circle cx="410.1" cy="209.3" r="3.25"/><circle cx="407.2" cy="214.4" r="3.25"/><circle cx="435.3" cy="202.3" r="3.25"/><circle cx="450.0" cy="201.8" r="3.25"/><circle cx="438.3" cy="208.9" r="3.25"/><circle cx="441.9" cy="207.4" r="3.25"/><circle cx="446.3" cy="214.7" r="3.25"/><circle cx="444.1" cy="216.9" r="3.25"/><circle cx="444.1" cy="221.3" r="3.25"/><circle cx="430.2" cy="219.9" r="3.25"/><circle cx="432.4" cy="222.1" r="3.25"/><circle cx="453.7" cy="222.8" r="3.25"/><circle cx="458.0" cy="215.9" r="3.25"/><circle cx="461.7" cy="218.4" r="3.25"/><circle cx="463.9" cy="211.5" r="3.25"/><circle cx="471.0" cy="224.5" r="3.25"/><circle cx="469.0" cy="227.2" r="3.25"/><circle cx="463.2" cy="230.1" r="3.25"/><circle cx="488.1" cy="207.4" r="3.25"/><circle cx="483.7" cy="213.3" r="3.25"/><circle cx="483.4" cy="219.1" r="3.25"/><circle cx="483.0" cy="228.7" r="3.25"/><circle cx="491.8" cy="225.0" r="3.25"/><circle cx="494.7" cy="218.4" r="3.25"/><circle cx="412.6" cy="247.4" r="3.25"/><circle cx="398.7" cy="260.2" r="3.25"/><circle cx="436.8" cy="257.7" r="3.25"/><circle cx="433.9" cy="273.4" r="3.25"/><circle cx="419.9" cy="280.0" r="3.25"/><circle cx="420.7" cy="285.1" r="3.25"/><circle cx="449.3" cy="285.9" r="3.25"/><circle cx="473.9" cy="282.9" r="3.25"/><circle cx="476.4" cy="242.2" r="3.25"/><circle cx="483.7" cy="238.9" r="3.25"/><circle cx="494.0" cy="236.0" r="3.25"/><circle cx="491.8" cy="255.8" r="3.25"/><circle cx="492.5" cy="260.9" r="3.25"/><circle cx="494.0" cy="263.9" r="3.25"/><circle cx="490.3" cy="276.3" r="3.25"/><circle cx="486.6" cy="281.5" r="3.25"/><circle cx="492.1" cy="286.3" r="3.25"/><circle cx="395.0" cy="288.0" r="3.25"/><circle cx="421.7" cy="290.0" r="3.25"/><circle cx="433.9" cy="290.7" r="3.25"/><circle cx="444.1" cy="294.7" r="3.25"/><circle cx="442.4" cy="301.3" r="3.25"/><circle cx="451.0" cy="312.0" r="3.25"/><circle cx="466.1" cy="308.9" r="3.25"/><circle cx="469.8" cy="305.2" r="3.25"/><circle cx="474.2" cy="296.9" r="3.25"/><circle cx="478.3" cy="300.5" r="3.25"/><circle cx="483.0" cy="293.9" r="3.25"/><circle cx="485.9" cy="298.3" r="3.25"/><circle cx="487.7" cy="302.0" r="3.25"/><circle cx="491.8" cy="294.7" r="3.25"/><circle cx="494.7" cy="302.7" r="3.25"/><circle cx="490.3" cy="310.8" r="3.25"/><circle cx="483.7" cy="314.5" r="3.25"/><circle cx="479.6" cy="315.6" r="3.25"/><circle cx="512.0" cy="226.8" r="3.25"/><circle cx="509.8" cy="229.7" r="3.25"/><circle cx="500.6" cy="233.1" r="3.25"/><circle cx="520.8" cy="234.1" r="3.25"/><circle cx="492.2" cy="226.5" r="3.25"/><circle cx="514.9" cy="239.4" r="3.25"/><circle cx="508.3" cy="244.8" r="3.25"/><circle cx="510.5" cy="250.7" r="3.25"/><circle cx="501.4" cy="251.4" r="3.25"/><circle cx="505.4" cy="265.6" r="3.25"/><circle cx="562.9" cy="269.0" r="3.25"/><circle cx="576.1" cy="280.4" r="3.25"/><circle cx="513.9" cy="287.8" r="3.25"/><circle cx="521.2" cy="290.7" r="3.25"/><circle cx="496.6" cy="297.6" r="3.25"/><circle cx="495.1" cy="303.5" r="3.25"/><circle cx="504.7" cy="305.4" r="3.25"/><circle cx="512.0" cy="305.4" r="3.25"/><circle cx="523.7" cy="301.3" r="3.25"/><circle cx="524.0" cy="307.1" r="3.25"/><circle cx="523.4" cy="313.0" r="3.25"/><circle cx="531.3" cy="312.7" r="3.25"/><circle cx="532.5" cy="299.8" r="3.25"/><circle cx="537.2" cy="296.6" r="3.25"/><circle cx="541.3" cy="299.8" r="3.25"/><circle cx="539.9" cy="307.1" r="3.25"/><circle cx="547.9" cy="306.0" r="3.25"/><circle cx="566.5" cy="298.6" r="3.25"/><circle cx="589.7" cy="297.6" r="3.25"/><circle cx="579.7" cy="308.6" r="3.25"/><circle cx="509.8" cy="318.6" r="3.25"/><circle cx="504.4" cy="323.7" r="3.25"/><circle cx="520.1" cy="319.6" r="3.25"/><circle cx="519.3" cy="324.0" r="3.25"/><circle cx="519.0" cy="329.1" r="3.25"/><circle cx="535.7" cy="324.0" r="3.25"/><circle cx="541.3" cy="332.5" r="3.25"/><circle cx="563.6" cy="319.1" r="3.25"/><circle cx="557.2" cy="335.4" r="3.25"/><circle cx="574.0" cy="329.6" r="3.25"/><circle cx="617.0" cy="269.0" r="3.25"/><circle cx="609.6" cy="273.6" r="3.25"/><circle cx="651.1" cy="285.9" r="3.25"/><circle cx="618.9" cy="300.7" r="3.25"/><circle cx="648.9" cy="300.4" r="3.25"/><circle cx="647.7" cy="304.1" r="3.25"/><circle cx="643.0" cy="307.0" r="3.25"/><circle cx="638.7" cy="311.0" r="3.25"/><circle cx="652.9" cy="312.9" r="3.25"/><circle cx="596.4" cy="312.6" r="3.25"/><circle cx="603.9" cy="310.2" r="3.25"/><circle cx="614.5" cy="311.0" r="3.25"/><circle cx="602.0" cy="316.5" r="3.25"/><circle cx="607.9" cy="321.7" r="3.25"/><circle cx="608.2" cy="325.3" r="3.25"/><circle cx="616.7" cy="323.1" r="3.25"/><circle cx="616.4" cy="331.5" r="3.25"/><circle cx="633.1" cy="332.7" r="3.25"/><circle cx="638.4" cy="329.4" r="3.25"/><circle cx="641.3" cy="332.2" r="3.25"/><rect x="165.5" y="242.0" width="5.8" height="5.8"/><rect x="254.9" y="272.0" width="5.8" height="5.8"/><rect x="314.4" y="176.6" width="5.8" height="5.8"/><rect x="551.6" y="317.0" width="5.8" height="5.8"/></g>
<g fill="none" stroke="#0000ff" stroke-width="1.7"><circle cx="141.2" cy="47.1" r="3.35"/><circle cx="139.3" cy="53.0" r="3.35"/><circle cx="141.2" cy="59.6" r="3.35"/><circle cx="156.2" cy="65.7" r="3.35"/><circle cx="185.8" cy="47.1" r="3.35"/><circle cx="191.4" cy="74.5" r="3.35"/><circle cx="223.3" cy="55.6" r="3.35"/><circle cx="251.9" cy="57.5" r="3.35"/><circle cx="262.2" cy="50.7" r="3.35"/><circle cx="271.7" cy="61.0" r="3.35"/><circle cx="276.8" cy="64.4" r="3.35"/><circle cx="297.7" cy="61.7" r="3.35"/><circle cx="246.8" cy="71.0" r="3.35"/><circle cx="263.7" cy="71.0" r="3.35"/><circle cx="268.0" cy="71.0" r="3.35"/><circle cx="271.7" cy="71.7" r="3.35"/><circle cx="274.2" cy="74.7" r="3.35"/><circle cx="290.0" cy="72.0" r="3.35"/><circle cx="298.1" cy="73.2" r="3.35"/><circle cx="254.9" cy="82.7" r="3.35"/><circle cx="258.5" cy="82.7" r="3.35"/><circle cx="261.9" cy="84.2" r="3.35"/><circle cx="277.9" cy="88.3" r="3.35"/><circle cx="293.3" cy="95.9" r="3.35"/><circle cx="305.4" cy="39.0" r="3.35"/><circle cx="312.9" cy="51.2" r="3.35"/><circle cx="313.2" cy="65.1" r="3.35"/><circle cx="328.6" cy="68.8" r="3.35"/><circle cx="309.5" cy="73.9" r="3.35"/><circle cx="310.6" cy="76.9" r="3.35"/><circle cx="318.3" cy="78.3" r="3.35"/><circle cx="315.4" cy="81.3" r="3.35"/><circle cx="302.9" cy="85.7" r="3.35"/><circle cx="333.0" cy="85.2" r="3.35"/><circle cx="306.2" cy="95.6" r="3.35"/><circle cx="340.3" cy="97.4" r="3.35"/><circle cx="343.7" cy="99.9" r="3.35"/><circle cx="394.1" cy="104.7" r="3.35"/><circle cx="398.2" cy="95.9" r="3.35"/><circle cx="401.2" cy="102.5" r="3.35"/><circle cx="436.3" cy="102.1" r="3.35"/><circle cx="429.8" cy="110.1" r="3.35"/><circle cx="448.1" cy="88.9" r="3.35"/><circle cx="453.7" cy="80.5" r="3.35"/><circle cx="445.6" cy="110.1" r="3.35"/><circle cx="454.7" cy="111.6" r="3.35"/><circle cx="455.9" cy="118.2" r="3.35"/><circle cx="466.8" cy="105.7" r="3.35"/><circle cx="476.4" cy="119.4" r="3.35"/><circle cx="481.8" cy="119.8" r="3.35"/><circle cx="487.4" cy="121.3" r="3.35"/><circle cx="459.5" cy="126.7" r="3.35"/><circle cx="463.6" cy="127.5" r="3.35"/><circle cx="480.8" cy="128.9" r="3.35"/><circle cx="480.8" cy="131.9" r="3.35"/><circle cx="494.0" cy="127.5" r="3.35"/><circle cx="425.8" cy="149.9" r="3.35"/><circle cx="498.1" cy="119.1" r="3.35"/><circle cx="505.8" cy="120.1" r="3.35"/><circle cx="521.5" cy="128.7" r="3.35"/><circle cx="524.5" cy="132.3" r="3.35"/><circle cx="520.8" cy="166.3" r="3.35"/><circle cx="579.4" cy="153.4" r="3.35"/><circle cx="589.0" cy="161.9" r="3.35"/><circle cx="532.8" cy="136.6" r="3.35"/><circle cx="603.8" cy="137.4" r="3.35"/><circle cx="601.6" cy="143.9" r="3.35"/><circle cx="653.3" cy="132.6" r="3.35"/><circle cx="607.9" cy="179.5" r="3.35"/><circle cx="612.0" cy="183.9" r="3.35"/><circle cx="639.4" cy="181.7" r="3.35"/><circle cx="639.8" cy="195.7" r="3.35"/><circle cx="302.1" cy="155.4" r="3.35"/><circle cx="284.9" cy="193.2" r="3.35"/><circle cx="299.1" cy="191.4" r="3.35"/><circle cx="251.9" cy="253.8" r="3.35"/><circle cx="262.9" cy="265.8" r="3.35"/><circle cx="272.9" cy="258.0" r="3.35"/><circle cx="298.1" cy="262.6" r="3.35"/><circle cx="304.7" cy="262.1" r="3.35"/><circle cx="311.0" cy="172.2" r="3.35"/><circle cx="312.5" cy="189.1" r="3.35"/><circle cx="310.0" cy="203.4" r="3.35"/><circle cx="317.3" cy="252.9" r="3.35"/><circle cx="310.0" cy="264.9" r="3.35"/><circle cx="396.0" cy="277.3" r="3.35"/><circle cx="405.6" cy="204.0" r="3.35"/><circle cx="410.1" cy="209.3" r="3.35"/><circle cx="407.2" cy="214.4" r="3.35"/><circle cx="435.3" cy="202.3" r="3.35"/><circle cx="461.7" cy="218.4" r="3.35"/><circle cx="471.0" cy="224.5" r="3.35"/><circle cx="492.1" cy="286.3" r="3.35"/><circle cx="479.6" cy="315.6" r="3.35"/><circle cx="520.8" cy="234.1" r="3.35"/><circle cx="521.2" cy="290.7" r="3.35"/><circle cx="647.7" cy="304.1" r="3.35"/></g>
<line x1="106.1" y1="85.9" x2="675.5" y2="240.05" stroke="#000" stroke-width="1.35" stroke-dasharray="6.1,3.68"/>
<rect x="102.5" y="1.75" width="573.0" height="346.75" fill="none" stroke="#000" stroke-width="1.33"/>
<g stroke="#000" stroke-width="1.3"><line x1="182.6" y1="348.5" x2="182.6" y2="360.8"/><line x1="305.4" y1="348.5" x2="305.4" y2="360.8"/><line x1="428.3" y1="348.5" x2="428.3" y2="360.8"/><line x1="551.1" y1="348.5" x2="551.1" y2="360.8"/><line x1="674.0" y1="348.5" x2="674.0" y2="360.8"/><line x1="90.3" y1="336.7" x2="102.5" y2="336.7"/><line x1="90.3" y1="284.0" x2="102.5" y2="284.0"/><line x1="90.3" y1="231.3" x2="102.5" y2="231.3"/><line x1="90.3" y1="178.6" x2="102.5" y2="178.6"/><line x1="90.3" y1="125.9" x2="102.5" y2="125.9"/><line x1="90.3" y1="73.2" x2="102.5" y2="73.2"/><line x1="90.3" y1="20.5" x2="102.5" y2="20.5"/></g>
<g font-size="20" text-anchor="middle"><text x="182.7" y="391">5</text><text x="305.6" y="391">10</text><text x="428.4" y="391">15</text><text x="551.2" y="391">20</text><text x="674.1" y="391">25</text><text transform="translate(75,337.0) rotate(-90)">1.0</text><text transform="translate(75,284.3) rotate(-90)">1.2</text><text transform="translate(75,231.6) rotate(-90)">1.4</text><text transform="translate(75,178.9) rotate(-90)">1.6</text><text transform="translate(75,126.2) rotate(-90)">1.8</text><text transform="translate(75,73.5) rotate(-90)">2.0</text><text transform="translate(75,20.8) rotate(-90)">2.2</text></g>
<text x="389.3" y="438" font-size="19.7" text-anchor="middle">Temperature (°C)</text>
<g transform="rotate(-90)"><text x="-184" y="23" font-size="17.5">β</text><text x="-173.8" y="28" font-size="14">2</text><text x="-184" y="13.5" font-size="17.5">^</text></g>
<rect x="501.1" y="1.75" width="174.4" height="69.85" fill="#fff" stroke="#000" stroke-width="1.33"/>
<circle cx="514.4" cy="19.4" r="3" fill="#f00"/><circle cx="514.4" cy="37" r="3" fill="#000"/><circle cx="514.4" cy="54.6" r="3" fill="none" stroke="#00f" stroke-width="1.3"/>
<g font-size="14.72"><text x="528" y="24.5">Class 185</text><text x="528" y="42">Class 155/158 or 170</text><text x="528" y="59.7">Training point</text></g>
</svg></body></html>
